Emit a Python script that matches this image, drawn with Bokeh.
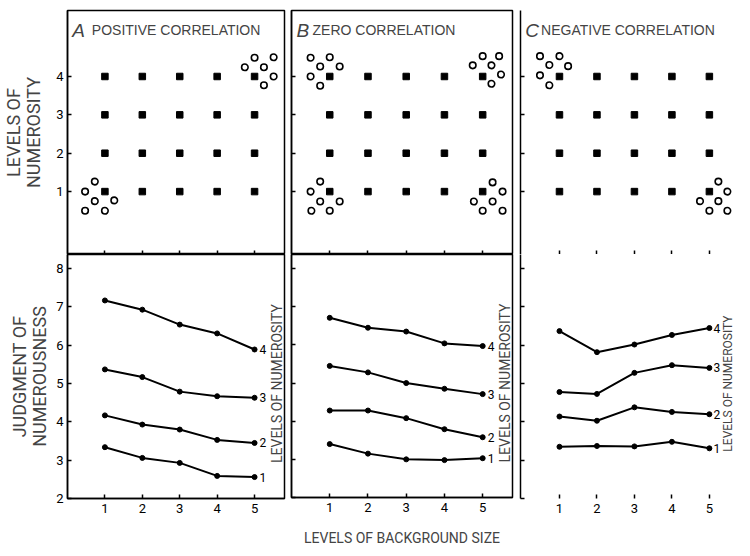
import numpy as np
from bokeh.plotting import figure
from bokeh.models import ColumnDataSource, FixedTicker, Label, Range1d
from bokeh.layouts import row, column
from bokeh.embed import file_html
from bokeh.resources import INLINE
from bokeh.core.properties import value

# ---------------- data ----------------
background_levels = [1, 2, 3, 4, 5]
numerosity_levels = [1, 2, 3, 4]
judgment_ticks = [2, 3, 4, 5, 6, 7, 8]
series_names = ["1", "2", "3", "4"]

# judgments of numerousness (bottom panels), one list per numerosity level
A_num1 = [3.34, 3.06, 2.93, 2.59, 2.56]
A_num2 = [4.17, 3.93, 3.80, 3.53, 3.45]
A_num3 = [5.37, 5.17, 4.79, 4.67, 4.63]
A_num4 = [7.17, 6.93, 6.54, 6.31, 5.89]

B_num1 = [3.40, 3.15, 3.00, 2.98, 3.03]
B_num2 = [4.28, 4.28, 4.08, 3.79, 3.58]
B_num3 = [5.45, 5.28, 5.00, 4.85, 4.71]
B_num4 = [6.71, 6.45, 6.35, 6.04, 5.97]

C_num1 = [3.35, 3.37, 3.36, 3.48, 3.31]
C_num2 = [4.14, 4.03, 4.38, 4.26, 4.20]
C_num3 = [4.78, 4.73, 5.28, 5.48, 5.41]
C_num4 = [6.37, 5.82, 6.02, 6.27, 6.45]

# background clusters of open circles (top panels): anchor cell + offsets
A_cluster_cells = [(1, 1), (5, 4)]
A_cluster_dx = [[-0.53, -0.27, -0.27, 0.25, -0.53, 0.00],
                [-0.26, 0.00, 0.25, 0.51, 0.25, 0.51]]
A_cluster_dy = [[0.00, 0.26, -0.25, -0.23, -0.50, -0.50],
                [0.24, 0.49, 0.24, 0.50, -0.23, 0.00]]

B_cluster_cells = [(1, 4), (5, 4), (1, 1), (5, 1)]
B_cluster_dx = [[-0.50, 0.00, -0.25, 0.26, -0.50, -0.25],
                [0.00, 0.43, -0.26, 0.23, 0.48, 0.23],
                [-0.25, -0.50, -0.25, 0.26, -0.48, 0.00],
                [0.26, 0.52, -0.23, 0.26, 0.00, 0.52]]
B_cluster_dy = [[0.49, 0.50, 0.26, 0.26, 0.00, -0.24],
                [0.53, 0.53, 0.29, 0.29, 0.05, -0.19],
                [0.26, 0.00, -0.26, -0.26, -0.50, -0.50],
                [0.24, 0.00, -0.26, -0.26, -0.50, -0.50]]

C_cluster_cells = [(1, 4), (5, 1)]
C_cluster_dx = [[-0.52, 0.00, -0.27, 0.23, -0.52, -0.27],
                [0.24, 0.48, -0.25, 0.24, 0.00, 0.48]]
C_cluster_dy = [[0.53, 0.53, 0.30, 0.27, 0.03, -0.23],
                [0.26, 0.00, -0.25, -0.25, -0.50, -0.50]]

panel_letters = ["A", "B", "C"]
panel_titles = ["POSITIVE CORRELATION", "ZERO CORRELATION", "NEGATIVE CORRELATION"]

# ---------------- style ----------------
NARROW = "Roboto"
REG = "Liberation Sans"
FRAME_H = 244
TOP_Y = (-0.64, 5.72)
BOT_Y = (2.0, 8.37)


def set_axis(ax, ticks, labelled):
    if labelled:
        ax.ticker = FixedTicker(ticks=ticks)
        ax.major_label_text_font = NARROW
        ax.major_label_text_font_size = "13px"
        ax.major_label_text_color = "black"
        ax.major_label_standoff = 4
    else:
        ax.ticker = FixedTicker(ticks=[], minor_ticks=ticks)
        ax.major_label_standoff = 0
    ax.major_tick_in = 4
    ax.major_tick_out = 0
    ax.minor_tick_in = 4 if not labelled else 0
    ax.minor_tick_out = 0
    ax.axis_line_width = 1.5
    ax.major_tick_line_width = 1.5
    ax.minor_tick_line_width = 1.5
    ax.axis_line_color = "black"
    ax.major_tick_line_color = "black"
    ax.minor_tick_line_color = "black"


def make_top(i, xr, lb, rb, fw, cells, cdx, cdy, outline):
    p = figure(width=lb + fw + rb, height=10 + FRAME_H, x_range=Range1d(*xr),
               y_range=Range1d(*TOP_Y), output_backend="svg", toolbar_location=None,
               min_border_left=lb, min_border_right=rb, min_border_top=10,
               min_border_bottom=0)
    p.outline_line_color = "black" if outline else None
    p.outline_line_width = 1.5
    p.xgrid.visible = False
    p.ygrid.visible = False
    set_axis(p.xaxis[0], background_levels, False)
    set_axis(p.yaxis[0], numerosity_levels, i == 0)
    if not outline:
        p.xaxis.axis_line_color = None
    if i == 0:
        p.yaxis.axis_label = "LEVELS OF\nNUMEROSITY"
        p.yaxis.axis_label_text_font = NARROW
        p.yaxis.axis_label_text_font_size = "18px"
        p.yaxis.axis_label_text_font_style = "normal"
        p.yaxis.axis_label_text_line_height = 0.95
        p.yaxis.axis_label_standoff = 9
    # grid of stimulus dots
    gx = [x for y in numerosity_levels for x in background_levels]
    gy = [y for y in numerosity_levels for x in background_levels]
    p.scatter(gx, gy, marker="square", size=6.5, color="black")
    # clusters of open circles
    ox, oy = [], []
    for (cx, cy), dxs, dys in zip(cells, cdx, cdy):
        ox += [cx + d for d in dxs]
        oy += [cy + d for d in dys]
    p.scatter(ox, oy, marker="circle", size=6.5, fill_color="white",
              line_color="black", line_width=1.6)
    p.add_layout(Label(x=xr[0] + 0.13, y=5.2, text=panel_letters[i], text_font=REG,
                       text_font_style="italic", text_font_size="19px",
                       text_baseline="alphabetic"))
    p.add_layout(Label(x=xr[0] + (0.65 if i == 0 else 0.55), y=5.22, text=panel_titles[i],
                       text_font=REG, text_font_size="14px", text_baseline="alphabetic"))
    return p


def make_bottom(i, xr, lb, rb, fw, series, outline, label_x, xlabel=None):
    p = figure(width=lb + fw + rb, height=FRAME_H + 50, x_range=Range1d(*xr),
               y_range=Range1d(*BOT_Y), output_backend="svg", toolbar_location=None,
               min_border_left=lb, min_border_right=rb, min_border_top=0,
               min_border_bottom=50)
    p.outline_line_color = "black" if outline else None
    p.outline_line_width = 1.5
    p.xgrid.visible = False
    p.ygrid.visible = False
    set_axis(p.xaxis[0], background_levels, True)
    set_axis(p.yaxis[0], judgment_ticks, i == 0)
    p.xaxis.major_label_standoff = 5
    if not outline:
        p.xaxis.axis_line_color = None
    if i == 0:
        p.yaxis.axis_label = "JUDGMENT OF\nNUMEROUSNESS"
        p.yaxis.axis_label_text_font = NARROW
        p.yaxis.axis_label_text_font_size = "18px"
        p.yaxis.axis_label_text_font_style = "normal"
        p.yaxis.axis_label_text_line_height = 0.95
        p.yaxis.axis_label_standoff = 3
    if xlabel:
        p.xaxis.axis_label = xlabel
        p.xaxis.axis_label_text_font = NARROW
        p.xaxis.axis_label_text_font_size = "14px"
        p.xaxis.axis_label_text_font_style = "normal"
        p.xaxis.axis_label_standoff = 15
    for ys in series:
        p.line(background_levels, ys, line_width=2, color="black")
        p.scatter(background_levels, ys, size=5, color="black")
    src = ColumnDataSource(dict(x=[background_levels[-1]] * 4,
                                y=[s[-1] for s in series], t=series_names))
    p.text(x="x", y="y", text="t", source=src, x_offset=5 if i < 2 else 4,
           text_align="left", text_baseline="middle", text_font=value(NARROW),
           text_font_size="12px", text_color="black")
    p.add_layout(Label(x=label_x, y=5.0, text="LEVELS OF NUMEROSITY", angle=np.pi / 2,
                       text_align="center", text_baseline="middle", text_font=NARROW,
                       text_font_size="14px" if i < 2 else "12px"))
    return p


# geometry: (x_range, left border, right border, frame width)
geo = [((0.0, 5.8), 62, 3, 222), ((0.0, 5.78), 4, 4, 221), ((-0.04, 5.67), 4, 0, 214)]
clusters = [(A_cluster_cells, A_cluster_dx, A_cluster_dy),
            (B_cluster_cells, B_cluster_dx, B_cluster_dy),
            (C_cluster_cells, C_cluster_dx, C_cluster_dy)]
bottoms = [[A_num1, A_num2, A_num3, A_num4],
           [B_num1, B_num2, B_num3, B_num4],
           [C_num1, C_num2, C_num3, C_num4]]
label_xs = [5.6, 5.58, 5.5]
outlines = [True, True, False]

cols = []
for i in range(3):
    xr, lb, rb, fw = geo[i]
    top = make_top(i, xr, lb, rb, fw, *clusters[i], outlines[i])
    bot = make_bottom(i, xr, lb, rb, fw, bottoms[i], outlines[i], label_xs[i],
                      "LEVELS OF BACKGROUND SIZE" if i == 1 else None)
    cols.append(column(top, bot, spacing=0))

layout = row(*cols, spacing=0)
open("out.html", "w").write(file_html(layout, INLINE))
